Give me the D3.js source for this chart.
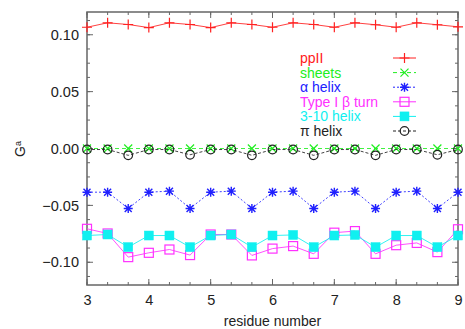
<!DOCTYPE html>
<html>
<head>
<meta charset="utf-8">
<script src="https://cdn.jsdelivr.net/npm/d3@7"></script>
<style>
  body { margin: 0; background: #fff; }
  svg text { font-family: "Liberation Sans", Arial, sans-serif; }
</style>
</head>
<body>
<div id="chart"></div>
<script>
// residue positions, one point every third of a residue
const residues = d3.range(19).map(i => 3 + i / 3);

const ppII   = [0.1066, 0.1105, 0.1090, 0.1063, 0.1105, 0.1090, 0.1063, 0.1105, 0.1090, 0.1066,
                0.1105, 0.1090, 0.1066, 0.1105, 0.1088, 0.1066, 0.1105, 0.1088, 0.1070];
const sheets = [0.0000, 0.0000, 0.0000, 0.0000, 0.0000, 0.0000, 0.0000, 0.0000, 0.0000, 0.0000,
                0.0000, 0.0000, 0.0000, 0.0000, 0.0000, 0.0000, 0.0000, 0.0000, 0.0000];
const alphaHelix = [-0.0384, -0.0384, -0.0527, -0.0384, -0.0375, -0.0527, -0.0384, -0.0375, -0.0527, -0.0384,
                    -0.0375, -0.0527, -0.0384, -0.0375, -0.0527, -0.0384, -0.0375, -0.0527, -0.0384];
const betaTurn = [-0.0706, -0.0747, -0.0955, -0.0917, -0.0888, -0.0937, -0.0756, -0.0756, -0.0940, -0.0880,
                  -0.0858, -0.0926, -0.0740, -0.0726, -0.0926, -0.0850, -0.0830, -0.0911, -0.0710];
const helix310 = [-0.0765, -0.0756, -0.0867, -0.0765, -0.0765, -0.0867, -0.0765, -0.0756, -0.0867, -0.0765,
                  -0.0760, -0.0867, -0.0765, -0.0760, -0.0867, -0.0765, -0.0765, -0.0867, -0.0765];
const piHelix = [-0.0009, -0.0009, -0.0060, -0.0009, -0.0009, -0.0055, -0.0009, -0.0009, -0.0060, -0.0009,
                 -0.0009, -0.0060, -0.0009, -0.0009, -0.0060, -0.0009, -0.0009, -0.0055, -0.0009];

const xTicks = [3, 4, 5, 6, 7, 8, 9];
const yTicks = [-0.10, -0.05, 0.00, 0.05, 0.10];

const seriesNames = ["ppII", "sheets", "\u03b1 helix", "Type I \u03b2 turn", "3-10 helix", "\u03c0 helix"];
const seriesValues = [ppII, sheets, alphaHelix, betaTurn, helix310, piHelix];
const seriesColors = ["#ff2020", "#20ee20", "#2020ff", "#ff30ff", "#10f0f0", "#222222"];
const seriesDash = [null, "4,3", "2,2", null, null, "3,2"];
const seriesMarker = ["plus", "cross", "star", "square", "filledSquare", "circle"];

var width = 465, height = 329;
var margins = {top: 12, right: 7, bottom: 44, left: 87};
var plotW = width - margins.left - margins.right;
var plotH = height - margins.top - margins.bottom;

var svg = d3.select("#chart").append("svg")
    .attr("width", width)
    .attr("height", height);

var g = svg.append("g")
    .attr("transform", "translate(" + margins.left + "," + margins.top + ")");

const x = d3.scaleLinear().domain([3, 9]).range([0, plotW]);
const y = d3.scaleLinear().domain([-0.12, 0.12]).range([plotH, 0]);

var frameColor = "#666";

// minor + major ticks on all four sides (pointing inward)
var xMinor = d3.range(0, 19).map(i => 3 + i / 3);
var yMinor = d3.range(-9, 10).map(i => i * 0.0125);

function tickSide(vals, len, side) {
    vals.forEach(v => {
        var line = g.append("line").attr("stroke", frameColor).attr("stroke-width", 1);
        if (side === "bottom") line.attr("x1", x(v)).attr("x2", x(v)).attr("y1", plotH).attr("y2", plotH - len);
        if (side === "top") line.attr("x1", x(v)).attr("x2", x(v)).attr("y1", 0).attr("y2", len);
        if (side === "left") line.attr("x1", 0).attr("x2", len).attr("y1", y(v)).attr("y2", y(v));
        if (side === "right") line.attr("x1", plotW).attr("x2", plotW - len).attr("y1", y(v)).attr("y2", y(v));
    });
}
tickSide(xMinor, 3, "bottom");
tickSide(xMinor, 3, "top");
tickSide(xTicks, 6, "bottom");
tickSide(xTicks, 6, "top");
tickSide(yMinor, 3, "left");
tickSide(yMinor, 3, "right");
tickSide(yTicks, 6, "left");
tickSide(yTicks, 6, "right");

// axis labels through d3 axes (no domain line, labels only)
var xAxis = g.append("g")
    .attr("transform", "translate(0," + plotH + ")")
    .call(d3.axisBottom(x).tickValues(xTicks).tickFormat(d3.format("d")).tickSize(0).tickPadding(10));
var yAxis = g.append("g")
    .call(d3.axisLeft(y).tickValues(yTicks).tickFormat(d3.format(".2f")).tickSize(0).tickPadding(8));
[xAxis, yAxis].forEach(a => {
    a.select(".domain").remove();
    a.selectAll("text").style("font-size", "14.5px").style("fill", "#222")
        .style("font-family", "'Liberation Sans', Arial, sans-serif");
});

// frame
g.append("rect")
    .attr("width", plotW).attr("height", plotH)
    .attr("fill", "none").attr("stroke", frameColor).attr("stroke-width", 1.5);

// marker drawing
function drawMarker(sel, type, color) {
    if (type === "plus") {
        sel.append("path").attr("d", "M-5,0H5M0,-5V5").attr("stroke", color).attr("stroke-width", 1.2).attr("fill", "none");
    } else if (type === "cross") {
        sel.append("path").attr("d", "M-4,-4L4,4M-4,4L4,-4").attr("stroke", color).attr("stroke-width", 1.2).attr("fill", "none");
    } else if (type === "star") {
        sel.append("path").attr("d", "M-4.5,0H4.5M0,-4.5V4.5M-3.5,-3.5L3.5,3.5M-3.5,3.5L3.5,-3.5")
            .attr("stroke", color).attr("stroke-width", 1.4).attr("fill", "none");
    } else if (type === "square") {
        sel.append("rect").attr("x", -4.5).attr("y", -4.5).attr("width", 9).attr("height", 9)
            .attr("fill", "none").attr("stroke", color).attr("stroke-width", 1.2);
    } else if (type === "filledSquare") {
        sel.append("rect").attr("x", -4.5).attr("y", -4.5).attr("width", 9).attr("height", 9)
            .attr("fill", color).attr("stroke", color).attr("stroke-width", 0.5);
    } else if (type === "circle") {
        sel.append("circle").attr("r", 4.3).attr("fill", "none").attr("stroke", color).attr("stroke-width", 1.2);
    }
}

var line = d3.line().x(d => x(d[0])).y(d => y(d[1]));

seriesValues.forEach((vals, i) => {
    var pts = residues.map((r, j) => [r, vals[j]]);
    g.append("path")
        .datum(pts)
        .attr("d", line)
        .attr("fill", "none")
        .attr("stroke", seriesColors[i])
        .attr("stroke-width", 1)
        .attr("stroke-dasharray", seriesDash[i])
        .attr("opacity", 0.85);
    g.selectAll(".m" + i)
        .data(pts)
        .enter().append("g")
        .attr("class", "m" + i)
        .attr("transform", d => "translate(" + x(d[0]) + "," + y(d[1]) + ")")
        .each(function() { drawMarker(d3.select(this), seriesMarker[i], seriesColors[i]); });
});

// legend
var legend = svg.append("g");
seriesNames.forEach((name, i) => {
    var ly = 58 + i * 14.6;
    legend.append("text")
        .attr("x", 300).attr("y", ly).attr("dy", "0.35em")
        .style("font-size", "14px")
        .style("fill", seriesColors[i])
        .text(name);
    legend.append("line")
        .attr("x1", 393).attr("x2", 416).attr("y1", ly).attr("y2", ly)
        .attr("stroke", seriesColors[i]).attr("stroke-width", 1)
        .attr("stroke-dasharray", seriesDash[i]);
    var mk = legend.append("g").attr("transform", "translate(404.5," + ly + ")");
    drawMarker(mk, seriesMarker[i], seriesColors[i]);
});

// axis titles
svg.append("text")
    .attr("x", margins.left + plotW / 2).attr("y", 326)
    .attr("text-anchor", "middle")
    .style("font-size", "14px").style("fill", "#222")
    .text("residue number");

var yTitle = svg.append("text")
    .attr("transform", "translate(25,149) rotate(-90)")
    .attr("text-anchor", "middle")
    .style("font-size", "14px").style("fill", "#222");
yTitle.append("tspan").text("G");
yTitle.append("tspan").attr("dy", "-0.5em").style("font-size", "9px").text("a");
</script>
</body>
</html>
